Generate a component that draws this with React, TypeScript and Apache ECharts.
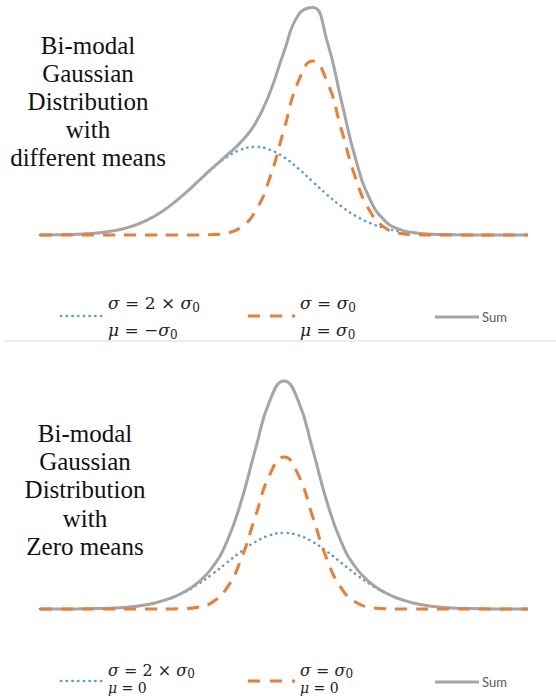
import React, { useEffect, useRef } from "react";
import * as echarts from "echarts";

// x positions in units of sigma_0
const xs = [
  -8.5, -8, -7.5, -7, -6.5, -6, -5.5, -5, -4.5, -4, -3.5, -3, -2.5, -2, -1.5, -1, -0.5,
  0, 0.5, 1, 1.5, 2, 2.5, 3, 3.5, 4, 4.5, 5, 5.5, 6, 6.5, 7, 7.5, 8, 8.5,
];

// Panel 1: different means
const topWide = [
  0.08, 0.19, 0.45, 0.98, 2.0, 3.9, 7.0, 11.9, 19.0, 28.6, 40.3, 53.4, 66.4, 77.7, 85.3, 88, 85.3,
  77.7, 66.4, 53.4, 40.3, 28.6, 19.0, 11.9, 7.0, 3.9, 2.0, 0.98, 0.45, 0.19, 0.08, 0.03, 0.01, 0, 0,
];
const topNarrow = [
  0, 0, 0, 0, 0, 0, 0, 0, 0, 0, 0, 0.06, 0.38, 1.9, 7.6, 23.5, 56.5,
  105.5, 153.6, 174, 153.6, 105.5, 56.5, 23.5, 7.6, 1.9, 0.38, 0.06, 0, 0, 0, 0, 0, 0, 0,
];
const topSum = [
  0.08, 0.19, 0.45, 0.98, 2.0, 3.9, 7.0, 11.9, 19.0, 28.6, 40.3, 53.5, 66.8, 79.6, 92.9, 111.5, 141.8,
  183.2, 220.0, 227.4, 193.9, 134.1, 75.5, 35.4, 14.6, 5.8, 2.4, 1.0, 0.45, 0.19, 0.08, 0.03, 0.01, 0, 0,
];

// Panel 2: zero means
const botWide = [
  0.01, 0.03, 0.07, 0.17, 0.39, 0.84, 1.7, 3.3, 6.0, 10.3, 16.4, 24.7, 34.8, 46.1, 57.4, 67.1, 73.7,
  76, 73.7, 67.1, 57.4, 46.1, 34.8, 24.7, 16.4, 10.3, 6.0, 3.3, 1.7, 0.84, 0.39, 0.17, 0.07, 0.03, 0.01,
];
const botNarrow = [
  0, 0, 0, 0, 0, 0, 0, 0, 0, 0.05, 0.33, 1.7, 6.7, 20.6, 49.4, 92.2, 134.1,
  152, 134.1, 92.2, 49.4, 20.6, 6.7, 1.7, 0.33, 0.05, 0, 0, 0, 0, 0, 0, 0, 0, 0,
];
const botSum = [
  0.01, 0.03, 0.07, 0.17, 0.39, 0.84, 1.7, 3.3, 6.0, 10.35, 16.7, 26.4, 41.5, 66.7, 106.8, 159.3, 207.8,
  228, 207.8, 159.3, 106.8, 66.7, 41.5, 26.4, 16.7, 10.35, 6.0, 3.3, 1.7, 0.84, 0.39, 0.17, 0.07, 0.03, 0.01,
];

const titleLines = [
  ["Bi-modal", "Gaussian", "Distribution", "with", "different means"],
  ["Bi-modal", "Gaussian", "Distribution", "with", "Zero means"],
];

// math tokens: [text, kind] where kind = "i" italic, "n" normal, "s" subscript
type Tok = [string, string];
const wideLabels: Tok[][][] = [
  [
    [["σ", "i"], [" = 2 × ", "n"], ["σ", "i"], ["0", "s"]],
    [["μ", "i"], [" = −", "n"], ["σ", "i"], ["0", "s"]],
  ],
  [
    [["σ", "i"], [" = 2 × ", "n"], ["σ", "i"], ["0", "s"]],
    [["μ", "i"], [" = 0", "n"]],
  ],
];
const narrowLabels: Tok[][][] = [
  [
    [["σ", "i"], [" = ", "n"], ["σ", "i"], ["0", "s"]],
    [["μ", "i"], [" = ", "n"], ["σ", "i"], ["0", "s"]],
  ],
  [
    [["σ", "i"], [" = ", "n"], ["σ", "i"], ["0", "s"]],
    [["μ", "i"], [" = 0", "n"]],
  ],
];
const sumLabel = "Sum";

const BLUE = "#5B9BD5";
const ORANGE = "#ED7D31";
const GRAY = "#A5A5A5";

const SERIF = "Liberation Serif";
const MATH = "DejaVu Serif";
const SANS = "Lato";

let measureCtx: CanvasRenderingContext2D | null = null;
function measure(text: string, size: number, family: string, italic = false) {
  if (!measureCtx) measureCtx = document.createElement("canvas").getContext("2d");
  if (!measureCtx) return text.length * size * 0.55;
  measureCtx.font = `${italic ? "italic " : ""}${size}px "${family}"`;
  return measureCtx.measureText(text).width;
}

function plainText(x: number, yCenter: number, text: string, size: number, family: string, fill: string, italic = false) {
  const style: any = { text, fontFamily: family, fontSize: size, fill };
  if (italic) style.fontStyle = "italic";
  return { type: "text", x, y: yCenter - size / 2, style };
}

function centeredText(cx: number, yCenter: number, text: string, size: number, family: string, fill: string) {
  const w = measure(text, size, family);
  return plainText(cx - w / 2, yCenter, text, size, family, fill);
}

function mathRun(x: number, yCenter: number, toks: Tok[], size: number) {
  const out: any[] = [];
  let cx = x;
  const subSize = Math.round(size * 0.72);
  for (const [t, k] of toks) {
    if (k === "s") {
      out.push(plainText(cx, yCenter + size * 0.28, t, subSize, MATH, "#222"));
      cx += measure(t, subSize, MATH);
    } else {
      const it = k === "i";
      out.push(plainText(cx, yCenter, t, size, MATH, "#222", it));
      cx += measure(t, size, MATH, it);
    }
  }
  return out;
}

function legend(idx: number, l1: number, l2: number, sym: number, size: number, size2: number) {
  return [
    {
      type: "line",
      shape: { x1: 61, y1: sym, x2: 104, y2: sym },
      style: { stroke: BLUE, lineWidth: 2.5, lineDash: [0.3, 5.4], lineCap: "round" },
    },
    ...mathRun(108, l1, wideLabels[idx][0], size),
    ...mathRun(108, l2, wideLabels[idx][1], size2),
    {
      type: "line",
      shape: { x1: 248, y1: sym, x2: 295, y2: sym },
      style: { stroke: ORANGE, lineWidth: 3, lineDash: [12, 10] },
    },
    ...mathRun(300, l1, narrowLabels[idx][0], size),
    ...mathRun(300, l2, narrowLabels[idx][1], size2),
    {
      type: "line",
      shape: { x1: 435, y1: sym + 1, x2: 479, y2: sym + 1 },
      style: { stroke: GRAY, lineWidth: 3 },
    },
    plainText(482, sym + 1, sumLabel, 13, SANS, "#595959"),
  ];
}

function buildOption() {
  const mk = (arr: number[]) => xs.map((x, i) => [x, arr[i]]);
  const line = (idx: number, arr: number[], style: any, z: number) => ({
    type: "line",
    xAxisIndex: idx,
    yAxisIndex: idx,
    data: mk(arr),
    smooth: true,
    showSymbol: false,
    symbol: "none",
    clip: false,
    silent: true,
    z,
    lineStyle: style,
  });
  const wideStyle = { color: BLUE, width: 2.5, type: [0.3, 5.4], cap: "round" };
  const narrowStyle = { color: ORANGE, width: 3, type: [12, 9] };
  const sumStyle = { color: GRAY, width: 3 };
  const hiddenX = (i: number) => ({
    type: "value",
    gridIndex: i,
    min: -8.5,
    max: 8.5,
    show: false,
    splitLine: { show: false },
  });
  const hiddenY = (i: number) => ({
    type: "value",
    gridIndex: i,
    min: 0,
    max: 235,
    show: false,
    splitLine: { show: false },
  });
  const titleEls = (lines: string[], cx: number, y0: number, step: number) =>
    lines.map((t, i) => centeredText(cx, y0 + i * step, t, 25, SERIF, "#111"));
  return {
    animation: false,
    grid: [
      { left: 40, width: 488, top: 0, height: 235 },
      { left: 40, width: 488, top: 374, height: 235 },
    ],
    xAxis: [hiddenX(0), hiddenX(1)],
    yAxis: [hiddenY(0), hiddenY(1)],
    series: [
      line(0, topWide, wideStyle, 2),
      line(0, topSum, sumStyle, 3),
      line(0, topNarrow, narrowStyle, 4),
      line(1, botWide, wideStyle, 2),
      line(1, botSum, sumStyle, 3),
      line(1, botNarrow, narrowStyle, 4),
    ],
    graphic: [
      {
        type: "line",
        shape: { x1: 4, y1: 341, x2: 556, y2: 341 },
        style: { stroke: "#D9D9D9", lineWidth: 1 },
      },
      ...titleEls(titleLines[0], 88, 45, 28),
      ...titleEls(titleLines[1], 85, 433, 28.4),
      ...legend(0, 303, 330, 316, 17, 17),
      ...legend(1, 670, 688, 681, 16, 14),
    ],
  };
}

export default function App() {
  const ref = useRef<HTMLDivElement>(null);
  useEffect(() => {
    document.body.style.margin = "0";
    const chart = echarts.init(ref.current!, null, { renderer: "svg" });
    chart.setOption(buildOption());
    return () => {
      chart.dispose();
    };
  }, []);
  return (
    <div
      ref={ref}
      style={{ position: "fixed", left: 0, top: 0, width: 556, height: 696, background: "#fff" }}
    />
  );
}
